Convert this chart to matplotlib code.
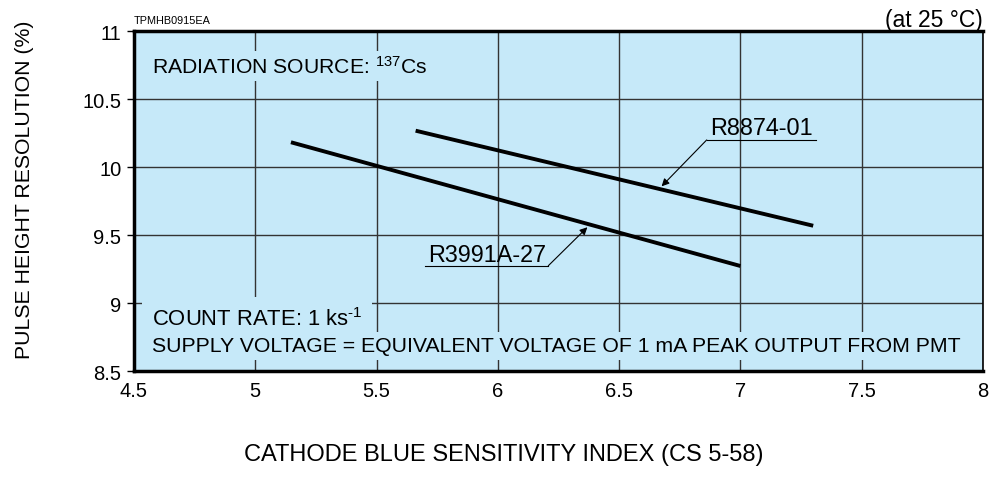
import matplotlib.pyplot as plt

plt.rcParams['font.family'] = ['Liberation Sans', 'DejaVu Sans']
plt.rcParams['mathtext.fontset'] = 'custom'
plt.rcParams['mathtext.rm'] = 'Liberation Sans'

# data
x_r3991 = [5.147, 7.0]
y_r3991 = [10.182, 9.272]
x_r8874 = [5.661, 7.30]
y_r8874 = [10.267, 9.568]

x_ticks = [4.5, 5, 5.5, 6, 6.5, 7, 7.5, 8]
x_ticklabels = ['4.5', '5', '5.5', '6', '6.5', '7', '7.5', '8']
y_ticks = [8.5, 9, 9.5, 10, 10.5, 11]
y_ticklabels = ['8.5', '9', '9.5', '10', '10.5', '11']

bg = '#c6e9f9'

fig = plt.figure(figsize=(9.9, 4.85), dpi=100)
ax = fig.add_axes([134 / 990, 1 - 372 / 485, 849 / 990, 340 / 485])
ax.set_facecolor(bg)

ax.set_xlim(4.5, 8)
ax.set_ylim(8.5, 11)
ax.set_xticks(x_ticks)
ax.set_xticklabels(x_ticklabels, fontsize=14.5)
ax.set_yticks(y_ticks)
ax.set_yticklabels(y_ticklabels, fontsize=14.5)
ax.tick_params(axis='x', length=0, pad=7)
ax.tick_params(axis='y', length=5, width=1, pad=4)
ax.grid(True, color='#333333', linewidth=1.0)
ax.set_axisbelow(True)

for s in ['left', 'bottom', 'top']:
    ax.spines[s].set_linewidth(2.5)
ax.spines['right'].set_linewidth(1.2)
for s in ax.spines.values():
    s.set_zorder(5)

ax.plot(x_r3991, y_r3991, color='black', linewidth=2.8, solid_capstyle='butt', zorder=3)
ax.plot(x_r8874, y_r8874, color='black', linewidth=2.8, solid_capstyle='butt', zorder=3)

# labels with leader lines
arrow = dict(arrowstyle='-|>', color='black', lw=0.8, mutation_scale=11, shrinkA=0, shrinkB=0)
ax.plot([6.861, 7.311], [10.199, 10.199], color='black', linewidth=0.8, zorder=3)
ax.annotate('', xy=(6.675, 9.858), xytext=(6.861, 10.199), arrowprops=arrow, zorder=3)
ax.text(7.086, 10.243, 'R8874-01', fontsize=16.8, ha='center', va='baseline', zorder=4)

ax.plot([5.70, 6.208], [9.274, 9.274], color='black', linewidth=0.8, zorder=3)
ax.annotate('', xy=(6.369, 9.557), xytext=(6.208, 9.274), arrowprops=arrow, zorder=3)
ax.text(5.954, 9.311, 'R3991A-27', fontsize=16.8, ha='center', va='baseline', zorder=4)

ax.text(4.573, 10.691, r'RADIATION SOURCE: $\mathregular{^{137}}$Cs', fontsize=15.2,
        ha='left', va='baseline', zorder=4,
        bbox=dict(facecolor=bg, edgecolor='none', pad=3))
ax.text(4.573, 8.84, r'COUNT RATE: 1 ks$\mathregular{^{\text{-}1}}$', fontsize=15.8,
        ha='left', va='baseline', zorder=4,
        bbox=dict(facecolor=bg, edgecolor='none', pad=7))
ax.text(4.573, 8.645, 'SUPPLY VOLTAGE = EQUIVALENT VOLTAGE OF 1 mA PEAK OUTPUT FROM PMT', fontsize=15.3,
        ha='left', va='baseline', zorder=4,
        bbox=dict(facecolor=bg, edgecolor='none', pad=3))

fig.text(134 / 990, 1 - 21 / 485, 'TPMHB0915EA', fontsize=7.8, ha='left', va='center')
fig.text(983 / 990, 1 - 20 / 485, '(at 25 \u00b0C)', fontsize=16.5, ha='right', va='center')

fig.text(504 / 990, 1 - 455 / 485, 'CATHODE BLUE SENSITIVITY INDEX (CS 5-58)', fontsize=17,
         ha='center', va='center')
fig.text(25 / 990, 1 - 190 / 485, 'PULSE HEIGHT RESOLUTION (%)', fontsize=15.3,
         ha='center', va='center', rotation=90)

fig.savefig('out.png', dpi=100, facecolor='white')
